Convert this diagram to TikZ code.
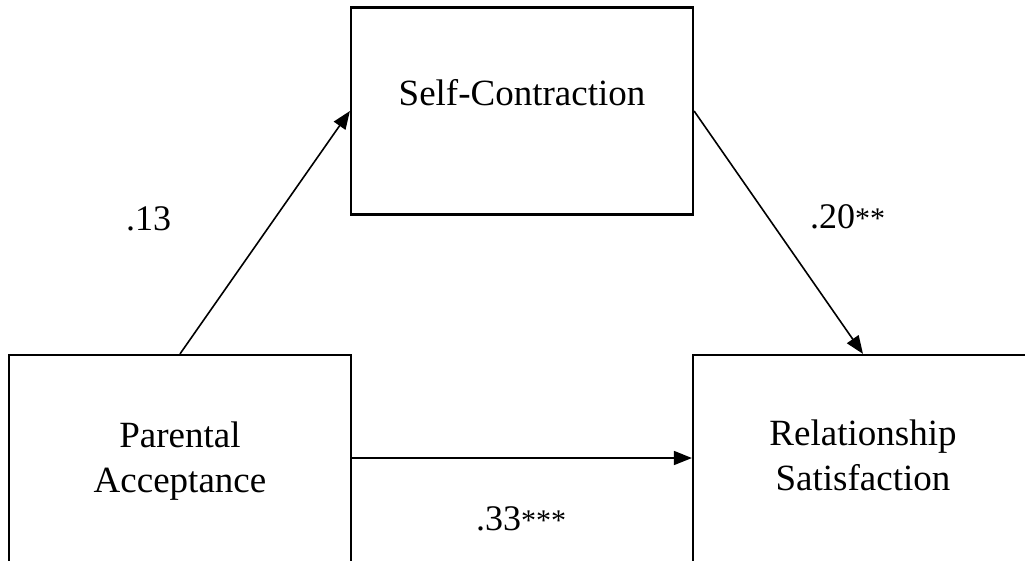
\documentclass[tikz,border=0pt]{standalone}
\usepackage{fontspec}
\setmainfont{Liberation Serif}
\usetikzlibrary{arrows.meta}
\tikzset{
  box/.style={draw=black, line width=2.2pt, rectangle, inner sep=0pt},
  lbl/.style={inner sep=0pt, font=\fontsize{37}{45}\selectfont},
  num/.style={inner sep=0pt, anchor=base west, font=\fontsize{36}{40}\selectfont},
  arr/.style={line width=1.6pt, -{Triangle[length=18pt,width=14pt]}},
}
\newcommand{\stars}[1]{{\fontsize{30}{30}\selectfont #1}}
\begin{document}
\begin{tikzpicture}[x=1pt,y=-1pt]
\useasboundingbox (0,0) rectangle (1025,560);
\clip (0,0) rectangle (1025,560);
\fill[white] (0,0) rectangle (1025,560);
% boxes
\node[box, minimum width=342pt, minimum height=207pt] (sc) at (522,111) {};
\node[box, minimum width=342pt, minimum height=220pt] (pa) at (180,465) {};
\node[box, minimum width=340pt, minimum height=220pt] (rs) at (863,465) {};
% box texts
\node[lbl, anchor=base] (sct) at (522,105) {Self-Contraction};
\node[lbl, anchor=base, align=center] (pat) at (180,492) {Parental\\Acceptance};
\node[lbl, anchor=base, align=center] (rst) at (863,490) {Relationship\\Satisfaction};
% arrows
\draw[arr] (pa.north) -- (sc.west);
\draw[arr] (sc.east) -- (rs.north);
\draw[arr] ([yshift=7pt]pa.east) -- ([yshift=7pt]rs.west);
% coefficients
\node[num] (a) at (126,230) {.13};
\node[num] (b) at (810,228) {.20\stars{**}};
\node[num] (c) at (476,530) {.33\stars{***}};
\end{tikzpicture}
\end{document}
